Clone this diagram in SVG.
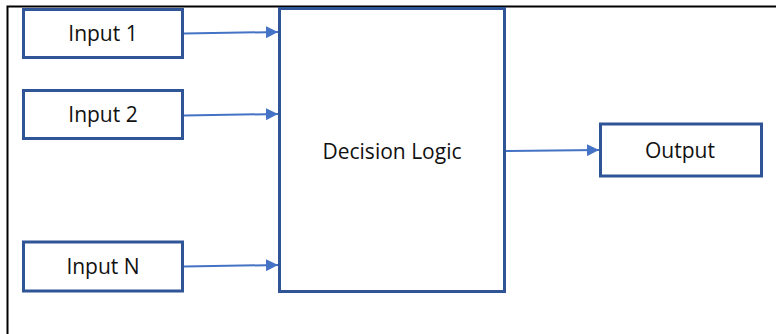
<svg xmlns="http://www.w3.org/2000/svg" width="776" height="334" viewBox="0 0 776 334">
<style>
.box{fill:#fff;stroke:#2F5597;stroke-width:3}
.lbl{font-family:"Open Sans","Liberation Sans",sans-serif;font-size:21px;fill:#111;text-anchor:middle}
.con{stroke:#4472C4;stroke-width:2;fill:none;marker-end:url(#ah)}
</style>
<defs>
<marker id="ah" viewBox="0 0 10 10" refX="10" refY="5" markerWidth="6" markerHeight="6" markerUnits="strokeWidth" orient="auto">
<path d="M0,0L10,5L0,10z" fill="#4472C4"/>
</marker>
</defs>
<rect width="776" height="334" fill="#fff"/>
<path d="M7.5,334V6.5H776" fill="none" stroke="#000" stroke-width="2"/>
<g id="connectors">
<path class="con" d="M184,33.5L278,32"/>
<path class="con" d="M184,115.5L278,114"/>
<path class="con" d="M184,266.5L278,265"/>
<path class="con" d="M506,151L599,150"/>
</g>
<g id="input1"><rect class="box" x="23.5" y="9.5" width="159" height="48"/><text class="lbl" x="103" y="41">Input 1</text></g>
<g id="input2"><rect class="box" x="23.5" y="90.5" width="159" height="48"/><text class="lbl" x="103" y="122">Input 2</text></g>
<g id="inputN"><rect class="box" x="23.5" y="242" width="159" height="49"/><text class="lbl" x="103" y="274">Input N</text></g>
<g id="decision"><rect class="box" x="279.5" y="8.5" width="225" height="283"/><text class="lbl" x="392" y="159">Decision Logic</text></g>
<g id="output"><rect class="box" x="600.5" y="124" width="161" height="52"/><text class="lbl" x="680" y="158">Output</text></g>
</svg>
